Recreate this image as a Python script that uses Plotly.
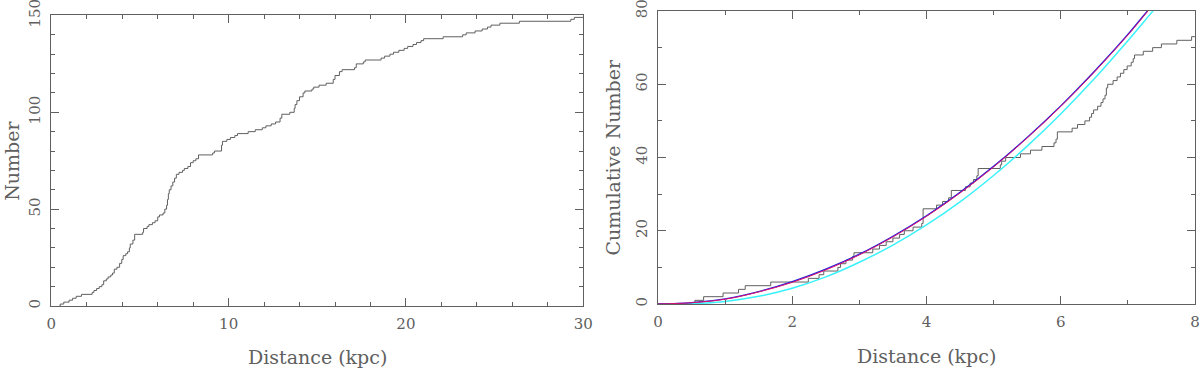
import plotly.graph_objects as go

# left panel: cumulative count of objects vs distance (step positions, kpc)
all_dist = [0.5, 0.7, 1.0, 1.2, 1.4, 1.7, 2.3, 2.4, 2.55, 2.7, 2.85, 2.95, 3.1, 3.2, 3.35,
            3.45, 3.55, 3.7, 3.85, 3.97, 4.05, 4.2, 4.3, 4.4, 4.45, 4.6, 4.7, 5.15, 5.2,
            5.4, 5.5, 5.7, 5.85, 6.0, 6.1, 6.3, 6.4, 6.5, 6.55, 6.6, 6.65, 6.75, 6.85,
            6.95, 7.05, 7.2, 7.4, 7.5, 7.7, 7.85, 8.0, 8.15, 8.3, 9.1, 9.2, 9.6, 9.65,
            9.9, 10.1, 10.35, 10.5, 11.1, 11.5, 11.9, 12.1, 12.4, 12.65, 12.9, 13.0,
            13.45, 13.7, 13.75, 13.85, 14.0, 14.2, 14.3, 14.7, 14.8, 15.1, 15.5, 15.9,
            16.0, 16.25, 16.4, 17.1, 17.2, 17.6, 17.7, 18.6, 18.8, 19.1, 19.3, 19.6,
            19.9, 20.1, 20.4, 20.6, 20.85, 21.0, 22.1, 23.2, 23.4, 23.9, 24.3, 24.6,
            24.8, 25.3, 26.4, 29.3, 29.5]
all_count = [1, 2, 3, 4, 5, 6, 7, 8, 9, 10, 11, 13, 14, 15, 16,
             17, 19, 20, 22, 24, 26, 27, 28, 30, 32, 34, 37, 38, 40,
             41, 42, 43, 44, 46, 47, 48, 50, 52, 55, 58, 60, 62, 64,
             66, 68, 69, 70, 71, 72, 74, 75, 76, 78, 79, 80, 83, 85,
             86, 87, 88, 89, 90, 91, 92, 93, 94, 95, 97, 99,
             100, 102, 104, 106, 108, 110, 111, 112, 113, 114, 115, 117,
             119, 121, 122, 123, 125, 126, 127, 128, 129, 130, 131, 132,
             133, 134, 135, 136, 137, 138, 139, 140, 141, 142, 143, 144,
             145, 146, 147, 148, 149]

# right panel: inner 8 kpc sample
near_dist = [0.55, 0.68, 0.97, 1.2, 1.3, 1.68, 2.24, 2.4, 2.47, 2.68, 2.72, 2.8, 2.9, 2.92,
             3.2, 3.3, 3.4, 3.5, 3.6, 3.67, 3.8, 3.93, 3.95, 4.15, 4.24, 4.33, 4.37,
             4.58, 4.65, 4.7, 4.75, 4.77, 5.1, 5.12, 5.18, 5.4, 5.55, 5.72, 5.9, 5.93,
             5.95, 6.17, 6.25, 6.36, 6.43, 6.46, 6.49, 6.55, 6.6, 6.63, 6.66, 6.68, 6.7,
             6.78, 6.84, 6.89, 6.94, 6.99, 7.05, 7.08, 7.1, 7.23, 7.37, 7.5, 7.73, 7.95]
near_count = [1, 2, 3, 4, 5, 6, 7, 8, 9, 10, 11, 12, 13, 14,
              15, 16, 17, 18, 19, 20, 21, 22, 26, 27, 28, 29, 31,
              32, 33, 34, 35, 37, 38, 39, 40, 41, 42, 43, 44, 45,
              47, 48, 49, 50, 51, 52, 53, 54, 55, 56, 57, 59, 60,
              61, 62, 63, 64, 65, 66, 67, 68, 69, 70, 71, 72, 73]

# model curves
model_d = [0, 0.5, 1.0, 1.5, 2.0, 2.5, 3.0, 3.5, 4.0, 4.5, 5.0, 5.5, 6.0, 6.5, 7.0, 7.3, 7.5]
model_blue = [0, 0.4, 1.4, 3.4, 6.1, 9.5, 13.6, 18.5, 24.1, 30.5, 37.6, 45.5, 54.1, 63.5, 73.6, 80.2, 84.6]
model_red = [0, 0.35, 1.3, 3.3, 5.9, 9.3, 13.4, 18.3, 23.9, 30.3, 37.4, 45.3, 53.9, 63.3, 73.4, 80.0, 84.4]
model_cyan = [0, 0.1, 0.7, 2.1, 4.3, 7.4, 11.4, 16.1, 21.6, 27.9, 35.1, 43.1, 51.9, 61.5, 71.9, 78.4, 82.8]

grey = "#606060"
font = dict(family="DejaVu Serif", size=15, color="#606060")
title_font = dict(family="DejaVu Serif", size=19, color="#606060")


def steps(d, n, start, end):
    return [start] + d + [end], [0] + n + [n[-1]]


fig = go.Figure()
x, y = steps(all_dist, all_count, 0.45, 30)
fig.add_trace(go.Scatter(x=x, y=y, mode="lines", line=dict(color=grey, width=1, shape="hv"),
                         xaxis="x", yaxis="y", showlegend=False))
x, y = steps(near_dist, near_count, 0, 8)
fig.add_trace(go.Scatter(x=x, y=y, mode="lines", line=dict(color=grey, width=1, shape="hv"),
                         xaxis="x2", yaxis="y2", showlegend=False))
fig.add_trace(go.Scatter(x=model_d, y=model_cyan, mode="lines", line=dict(color="#3af2fa", width=1.5, shape="spline"),
                         xaxis="x2", yaxis="y2", showlegend=False))
fig.add_trace(go.Scatter(x=model_d, y=model_blue, mode="lines", line=dict(color="#2020e0", width=1.3, shape="spline"),
                         xaxis="x2", yaxis="y2", showlegend=False))
fig.add_trace(go.Scatter(x=model_d, y=model_red, mode="lines", line=dict(color="#e0106a", width=1, shape="spline"),
                         xaxis="x2", yaxis="y2", showlegend=False))

axis_style = dict(showline=True, linecolor=grey, linewidth=1, mirror="ticks", ticks="inside",
                  ticklen=8, tickcolor=grey, showgrid=False, zeroline=False, tickfont=font,
                  automargin=False, ticklabeloverflow="allow")

fig.update_layout(
    width=1200, height=368,
    margin=dict(l=0, r=0, t=0, b=0),
    paper_bgcolor="white", plot_bgcolor="white",
    font=font,
    xaxis=dict(axis_style, domain=[0.0428, 0.486], range=[0, 30], dtick=10,
               minor=dict(dtick=2, ticklen=4, ticks="inside", tickcolor=grey),
               ticklabelstandoff=4),
    yaxis=dict(axis_style, domain=[0.1685, 0.958], range=[0, 150], dtick=50, tickangle=-90,
               minor=dict(dtick=10, ticklen=4, ticks="inside", tickcolor=grey),
               ticklabelstandoff=4),
    xaxis2=dict(axis_style, domain=[0.5483, 0.9958], range=[0, 8], dtick=2, anchor="y2",
                minor=dict(dtick=1, ticklen=4, ticks="inside", tickcolor=grey),
                ticklabelstandoff=4),
    yaxis2=dict(axis_style, domain=[0.1739, 0.9701], range=[0, 80], dtick=20, tickangle=-90,
                anchor="x2", minor=dict(dtick=10, ticklen=4, ticks="inside", tickcolor=grey),
                ticklabelstandoff=4),
    annotations=[
        dict(text="Distance (kpc)", x=0.2644, y=11 / 368, xref="paper", yref="paper",
             xanchor="center", yanchor="middle", showarrow=False, font=title_font),
        dict(text="Distance (kpc)", x=0.772, y=12 / 368, xref="paper", yref="paper",
             xanchor="center", yanchor="middle", showarrow=False, font=title_font),
        dict(text="Number", x=12 / 1200, y=0.563, xref="paper", yref="paper", textangle=-90,
             xanchor="center", yanchor="middle", showarrow=False, font=title_font),
        dict(text="Cumulative Number", x=613 / 1200, y=0.572, xref="paper", yref="paper",
             textangle=-90, xanchor="center", yanchor="middle", showarrow=False,
             font=title_font),
    ],
)

# drop the default page margin so the figure sits at the window's top-left corner
fig.write_html("out.html", config={"displayModeBar": False},
               post_script="document.body.style.margin='0';")
